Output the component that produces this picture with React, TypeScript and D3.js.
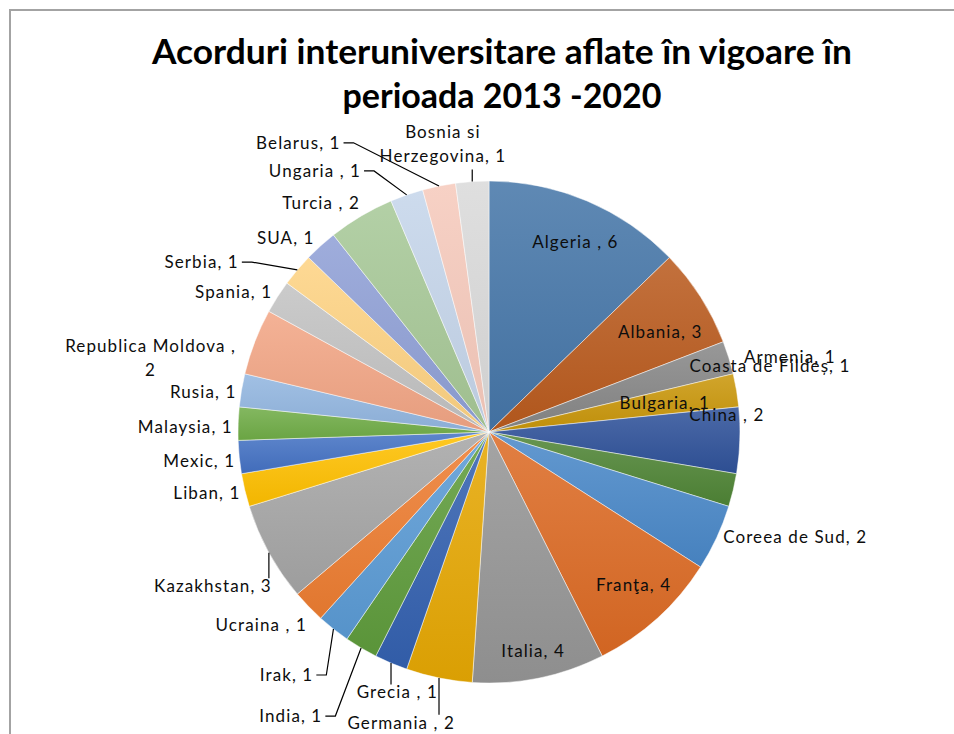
import React from 'react';
import * as d3 from 'd3';

const categories = [
  'Algeria ', 'Albania', 'Armenia', 'Bulgaria', 'China ', 'Coasta de Fildeș', 'Coreea de Sud',
  'Franţa', 'Italia', 'Germania ', 'Grecia ', 'India', 'Irak', 'Ucraina ', 'Kazakhstan', 'Liban',
  'Mexic', 'Malaysia', 'Rusia', 'Republica Moldova ', 'Spania', 'Serbia', 'SUA', 'Turcia ',
  'Ungaria ', 'Belarus', 'Bosnia si Herzegovina',
];
const values = [6, 3, 1, 1, 2, 1, 2, 4, 4, 2, 1, 1, 1, 1, 3, 1, 1, 1, 1, 2, 1, 1, 1, 2, 1, 1, 1];
const colors = [
  '#4576a8', '#b95a1d', '#878787', '#c9960a', '#2f529a', '#4f8536', '#4a88c8',
  '#dc6a24', '#959595', '#e5a703', '#3461b0', '#5f9c3c', '#5b9bd5', '#ed7d31', '#a5a5a5', '#ffc000',
  '#4472c4', '#70ad47', '#92b6e0', '#f2a585', '#c2c2c2', '#fed383', '#8fa0d6', '#a7c897',
  '#c5d5ea', '#f6cabc', '#dadada',
];
const titleLines = ['Acorduri interuniversitare aflate în vigoare în', 'perioada 2013 -2020'];

// label placement: [angle (deg, clockwise from 12 o'clock), radius factor, leader line, wrap width]
const labelLayout: [number, number, boolean, number][] = [
  [24.5, 0.83, false, 0], [59.7, 0.79, false, 0], [76.0, 1.235, false, 0], [80.6, 0.71, false, 0],
  [85.9, 0.95, false, 0], [76.8, 1.15, false, 0], [109, 1.29, false, 0], [136.7, 0.84, false, 0],
  [168.6, 0.89, false, 0], [196.8, 1.21, true, 0], [199.4, 1.10, true, 0], [214.9, 1.38, true, 0],
  [219.8, 1.26, true, 0], [229.7, 1.19, false, 0], [240.8, 1.26, true, 0], [257.8, 1.15, false, 0],
  [264.3, 1.16, false, 0], [270.9, 1.21, false, 0], [278, 1.15, false, 0], [282.3, 1.38, false, 180],
  [298.7, 1.16, false, 0], [300.6, 1.33, true, 0], [313.7, 1.12, false, 0], [323.7, 1.13, false, 0],
  [326.3, 1.25, true, 0], [326.6, 1.38, true, 0], [350.9, 1.16, true, 140],
];

const W = 954;
const H = 734;
const CX = 489;
const CY = 432;
const R = 251;
const FONT = 'Lato, "Open Sans", sans-serif';
const LABEL_SIZE = 17;
const LETTER_SP = 1.1;
const LINE_H = 24;

let ctx: CanvasRenderingContext2D | null = null;
function measure(t: string): number {
  if (!ctx) ctx = document.createElement('canvas').getContext('2d');
  if (!ctx) return t.length * 9;
  ctx.font = `${LABEL_SIZE}px Lato`;
  return ctx.measureText(t).width + LETTER_SP * t.length;
}

function wrap(text: string, maxW: number): string[] {
  if (!maxW) return [text];
  const words = text.split(' ');
  const lines: string[] = [];
  let cur = '';
  for (const w of words) {
    const cand = cur ? cur + ' ' + w : w;
    if (cur && measure(cand) > maxW) {
      lines.push(cur);
      cur = w;
    } else cur = cand;
  }
  if (cur) lines.push(cur);
  return lines;
}

const polar = (deg: number, r: number): [number, number] => {
  const a = (deg * Math.PI) / 180;
  return [CX + r * Math.sin(a), CY - r * Math.cos(a)];
};

export default function App() {
  const data = categories.map((c, i) => ({ name: c, value: values[i], color: colors[i] }));
  const pie = d3.pie<any>().value((d) => d.value).sort(null).startAngle(0).endAngle(2 * Math.PI);
  const arcs = pie(data);
  const arcGen = d3.arc<any>().innerRadius(0).outerRadius(R);

  return (
    <svg width={W} height={H} style={{ position: 'absolute', left: 0, top: 0, background: '#fff' }}>
      <defs>
        {arcs.map((a, i) => {
          const c = a.data.color;
          return (
            <linearGradient key={i} id={`g${i}`} x1="0" y1="0" x2="0" y2="1">
              <stop offset="0" stopColor={d3.interpolateRgb(c, '#ffffff')(0.14)} />
              <stop offset="1" stopColor={d3.interpolateRgb(c, '#000000')(0.05)} />
            </linearGradient>
          );
        })}
      </defs>
      <rect x={0} y={0} width={W} height={H} fill="#fff" />
      <path d={`M10,${H} L10,10 L${W},10`} fill="none" stroke="#a3a3a3" strokeWidth={2} />
      {titleLines.map((t, i) => (
        <text
          key={i}
          x={502}
          y={64 + i * 44}
          textAnchor="middle"
          fontFamily={FONT}
          fontWeight={700}
          fontSize={34}
          fill="#000"
          textLength={i === 0 ? 700 : 319}
          lengthAdjust="spacingAndGlyphs"
        >
          {t}
        </text>
      ))}
      <g transform={`translate(${CX},${CY})`}>
        {arcs.map((a, i) => (
          <path key={i} d={arcGen(a) || ''} fill={`url(#g${i})`} stroke="#fff" strokeWidth={0.6} strokeOpacity={0.8} />
        ))}
      </g>
      {arcs.map((a, i) => {
        const [ang, k, leader, wrapW] = labelLayout[i];
        const label = `${a.data.name}, ${a.data.value}`;
        const lines = wrap(label, wrapW);
        const [lx, ly] = polar(ang, R * k);
        const h = lines.length * LINE_H;
        const w = Math.max(...lines.map(measure));
        const top = ly - h / 2;
        let leaderPath = '';
        if (leader) {
          const mid = (a.startAngle + a.endAngle) / 2;
          const [px, py] = polar((mid * 180) / Math.PI, R);
          const left = lx - w / 2;
          const right = lx + w / 2;
          if (px >= left - 6 && px <= right + 6) {
            const yEdge = py < ly ? top + 4 : top + h + 1;
            leaderPath = `M${px},${py} L${px},${yEdge}`;
          } else if (px > right) {
            const sx = right + 3;
            leaderPath = `M${sx},${ly} L${sx + 10},${ly} L${px},${py}`;
          } else {
            const sx = left - 3;
            leaderPath = `M${sx},${ly} L${sx - 10},${ly} L${px},${py}`;
          }
        }
        return (
          <g key={i}>
            {leaderPath && <path d={leaderPath} fill="none" stroke="#000" strokeWidth={1.2} />}
            <text
              fontFamily={FONT}
              fontSize={LABEL_SIZE}
              letterSpacing={LETTER_SP}
              fill="#0d0d0d"
              textAnchor="middle"
              style={{ whiteSpace: 'pre' }}
            >
              {lines.map((ln, j) => (
                <tspan key={j} x={lx} y={top + j * LINE_H + LINE_H / 2 + LABEL_SIZE * 0.35}>
                  {ln}
                </tspan>
              ))}
            </text>
          </g>
        );
      })}
    </svg>
  );
}
